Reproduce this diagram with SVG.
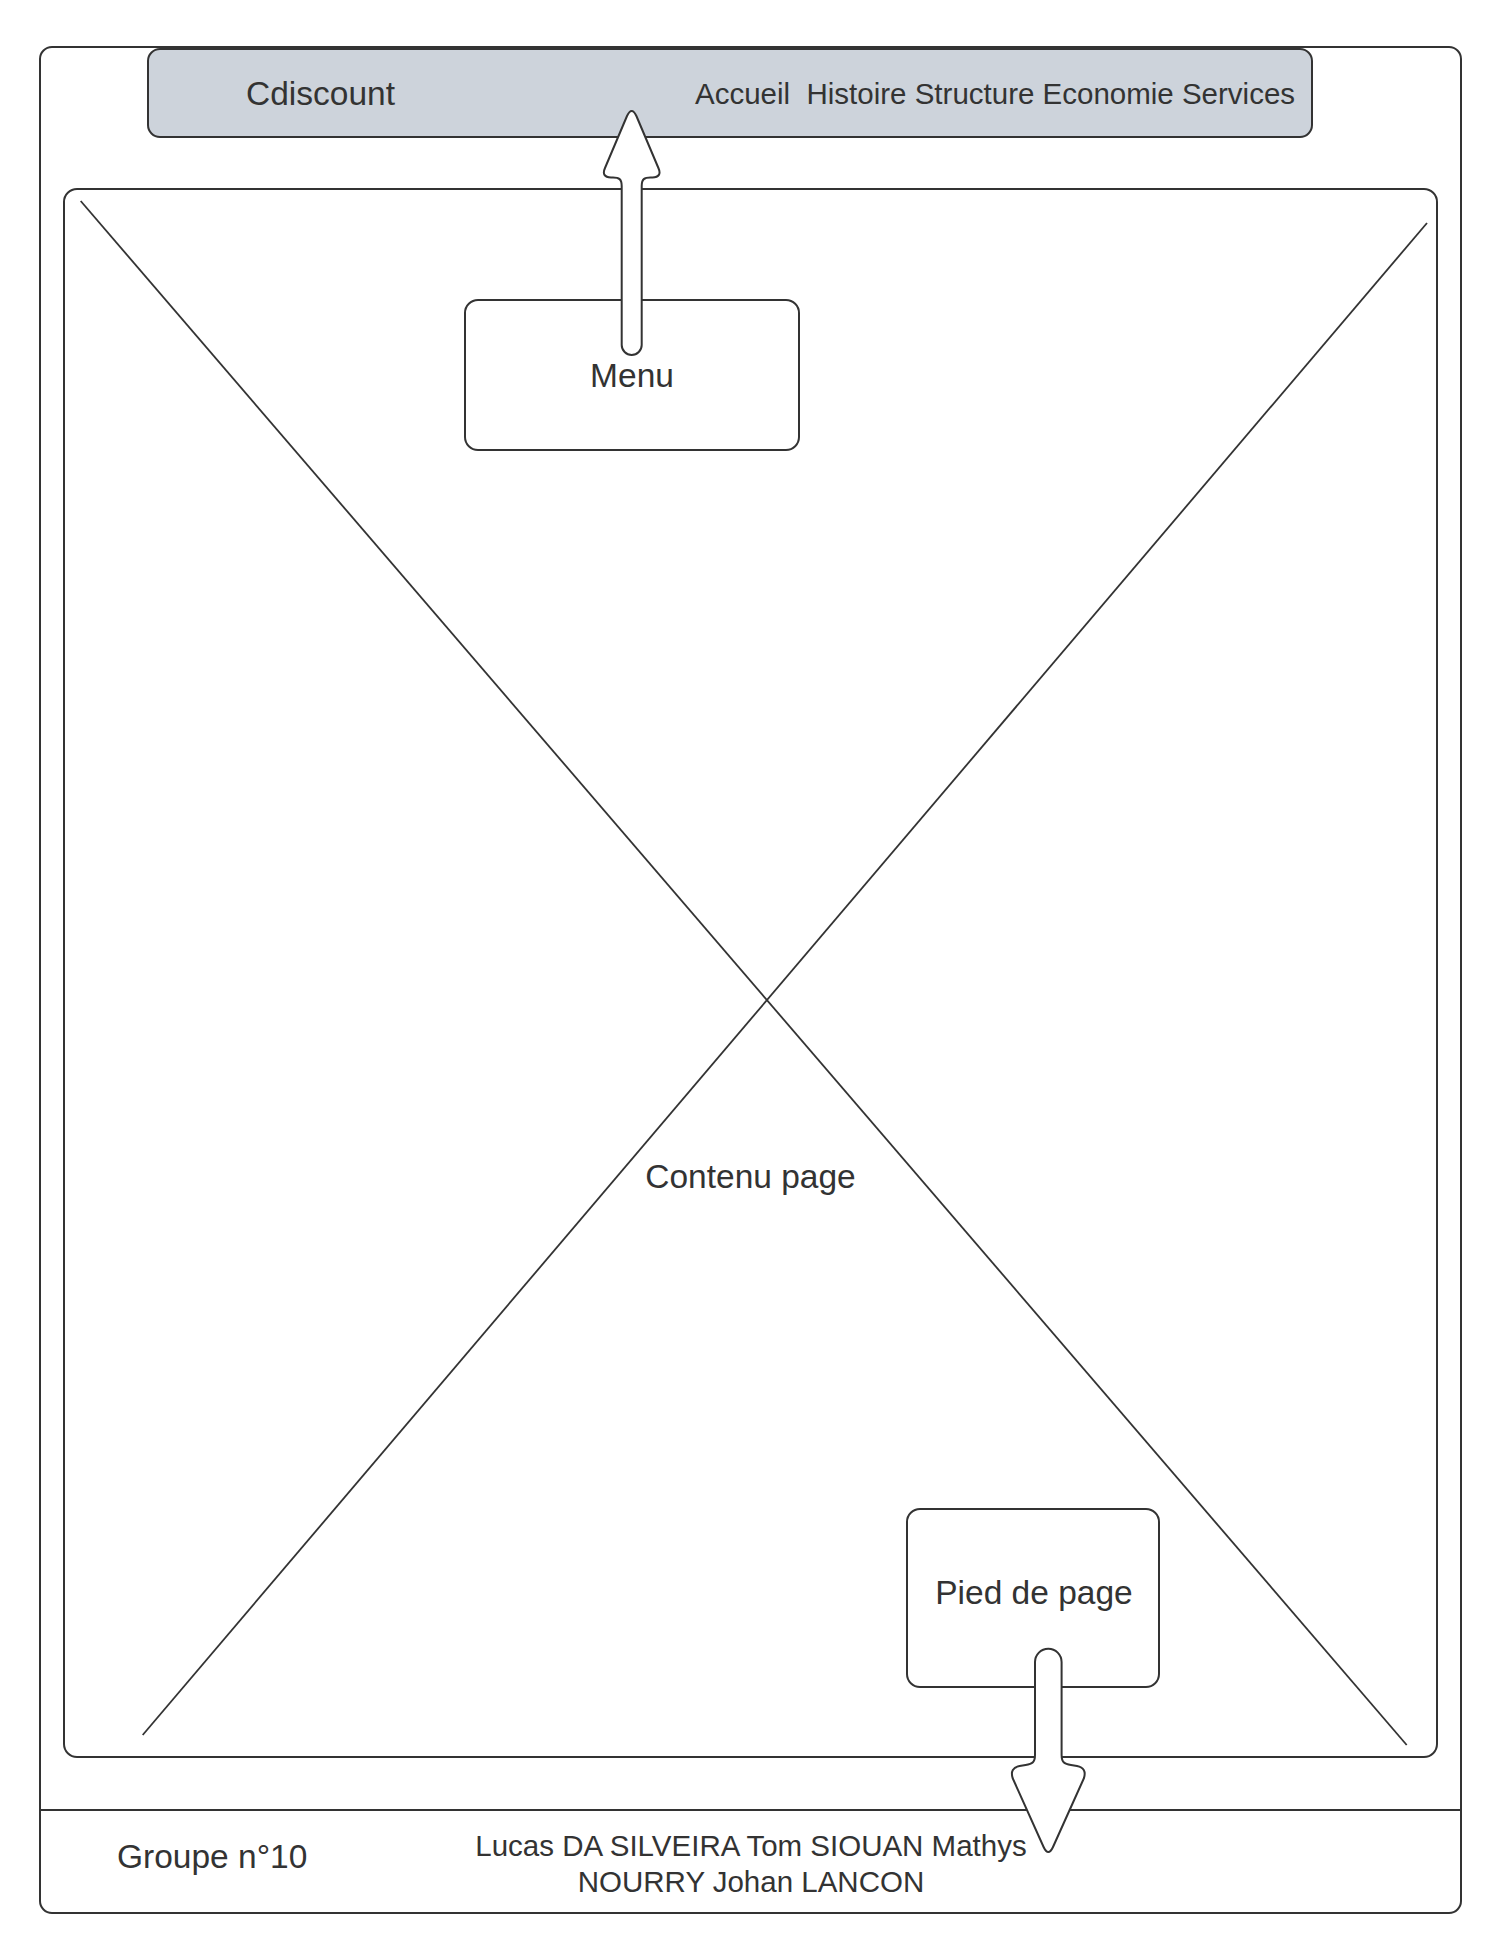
<svg xmlns="http://www.w3.org/2000/svg" width="1487" height="1952" viewBox="0 0 1487 1952">
  <style>
    .box { fill: #ffffff; stroke: #333333; stroke-width: 2; }
    .bar { fill: #cdd3db; stroke: #333333; stroke-width: 2; }
    .line { stroke: #333333; stroke-width: 2; fill: none; }
    .diag { stroke: #333333; stroke-width: 1.8; fill: none; }
    .lbl { font-family: "Liberation Sans", Arial, sans-serif; fill: #333333; }
    .big { font-size: 33.5px; }
    .small { font-size: 29.5px; }
    .arrow { fill: #ffffff; stroke: #333333; stroke-width: 2; stroke-linejoin: round; }
  </style>
  <rect width="1487" height="1952" fill="#ffffff"/>

  <!-- page frame with footer band -->
  <g id="page">
    <rect class="box" x="40" y="47" width="1421" height="1866" rx="12"/>
    <line class="line" x1="40" y1="1810" x2="1461" y2="1810"/>
  </g>

  <!-- header bar -->
  <g id="header">
    <rect class="bar" x="148" y="49" width="1164" height="88" rx="12"/>
    <text class="lbl big" x="246" y="105">Cdiscount</text>
    <text class="lbl small" x="695" y="104" xml:space="preserve">Accueil  Histoire Structure Economie Services</text>
  </g>

  <!-- content placeholder -->
  <g id="content">
    <rect class="box" x="64" y="189" width="1373" height="1568" rx="13"/>
    <line class="diag" x1="80.7" y1="201" x2="1406.7" y2="1745"/>
    <line class="diag" x1="1427" y1="223" x2="142.7" y2="1735"/>
    <text class="lbl big" x="750.5" y="1188" text-anchor="middle">Contenu page</text>
  </g>

  <!-- menu callout -->
  <g id="menu">
    <rect class="box" x="465" y="300" width="334" height="150" rx="13"/>
    <text class="lbl big" x="632" y="387" text-anchor="middle">Menu</text>
  </g>

  <!-- footer callout -->
  <g id="pied-de-page">
    <rect class="box" x="907" y="1509" width="252" height="178" rx="13"/>
    <text class="lbl big" x="1034" y="1604" text-anchor="middle">Pied de page</text>
  </g>

  <!-- footer texts -->
  <g id="groupe">
    <text class="lbl big" x="117" y="1868">Groupe n°10</text>
  </g>
  <g id="auteurs">
    <text class="lbl small" x="751" y="1856" text-anchor="middle">Lucas DA SILVEIRA Tom SIOUAN Mathys</text>
    <text class="lbl small" x="751" y="1892" text-anchor="middle">NOURRY Johan LANCON</text>
  </g>

  <!-- block arrows -->
  <g id="connectors">
    <path class="arrow" d="M 621.7,345 V 186 C 621.7,179 619,177.5 613,177.5 L 611,177.5 Q 601,177 605,168 L 627,116 Q 631.7,106 636.4,116 L 658.4,168 Q 662.4,177 652.4,177.5 L 650.4,177.5 C 644.4,177.5 641.7,179 641.7,186 V 345 A 10 10 0 0 1 621.7,345 Z"/>
    <path class="arrow" d="M 1035,1662 A 13.3 13.3 0 0 1 1061.6,1662 V 1755 C 1061.6,1762 1064,1764 1071,1765 L 1077,1766 Q 1087,1768 1084,1778 L 1053,1847 Q 1048.3,1857 1043.6,1847 L 1012.6,1778 Q 1009.6,1768 1019.6,1766 L 1025.6,1765 C 1032.6,1764 1035,1762 1035,1755 Z"/>
  </g>
</svg>
